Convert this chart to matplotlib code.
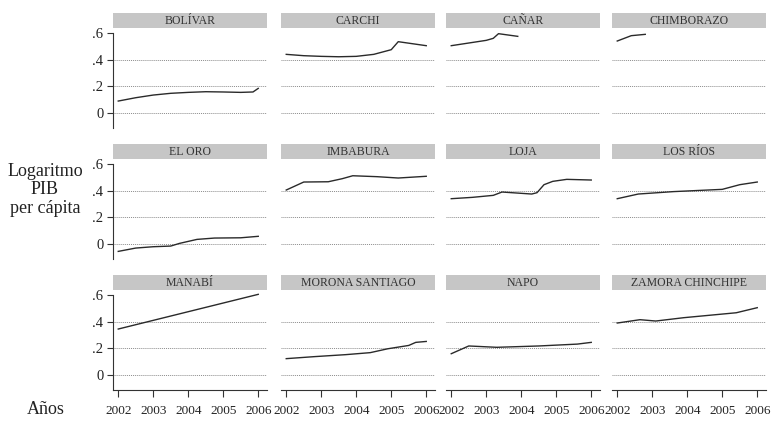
import matplotlib.pyplot as plt

plt.rcParams['font.family'] = ['Liberation Serif', 'DejaVu Serif']

# provincias (orden de los paneles, 4 columnas x 3 filas)
provincias = ["BOLÍVAR", "CARCHI", "CAÑAR", "CHIMBORAZO",
              "EL ORO", "IMBABURA", "LOJA", "LOS RÍOS",
              "MANABÍ", "MORONA SANTIAGO", "NAPO", "ZAMORA CHINCHIPE"]

# logaritmo del PIB per cápita
t_bolivar = [2002, 2002.5, 2003, 2003.5, 2004, 2004.5, 2005, 2005.5, 2005.85, 2006]
y_bolivar = [0.09, 0.115, 0.135, 0.148, 0.155, 0.16, 0.158, 0.155, 0.158, 0.185]

t_carchi = [2002, 2002.5, 2003, 2003.5, 2004, 2004.5, 2005, 2005.2, 2005.6, 2006]
y_carchi = [0.44, 0.43, 0.425, 0.422, 0.425, 0.44, 0.475, 0.535, 0.52, 0.505]

t_canar = [2002, 2002.5, 2003, 2003.2, 2003.35, 2003.9]
y_canar = [0.505, 0.525, 0.545, 0.56, 0.595, 0.575]

t_chimborazo = [2002, 2002.4, 2002.8]
y_chimborazo = [0.54, 0.58, 0.59]

t_el_oro = [2002, 2002.5, 2003, 2003.5, 2003.75, 2004.25, 2004.75, 2005.5, 2006]
y_el_oro = [-0.055, -0.03, -0.02, -0.015, 0.005, 0.035, 0.045, 0.047, 0.058]

t_imbabura = [2002, 2002.5, 2003.2, 2003.6, 2003.9, 2004.6, 2005.2, 2006]
y_imbabura = [0.405, 0.465, 0.467, 0.49, 0.512, 0.505, 0.495, 0.508]

t_loja = [2002, 2002.6, 2003.2, 2003.45, 2004.3, 2004.45, 2004.65, 2004.9, 2005.3, 2006]
y_loja = [0.34, 0.35, 0.365, 0.39, 0.375, 0.385, 0.445, 0.47, 0.485, 0.48]

t_los_rios = [2002, 2002.6, 2003.6, 2005, 2005.5, 2006]
y_los_rios = [0.34, 0.375, 0.393, 0.41, 0.445, 0.465]

t_manabi = [2002, 2003, 2004, 2005, 2006]
y_manabi = [0.345, 0.41, 0.475, 0.54, 0.605]

t_morona = [2002, 2002.8, 2003.7, 2004.4, 2004.9, 2005.5, 2005.7, 2006]
y_morona = [0.123, 0.138, 0.153, 0.168, 0.197, 0.222, 0.245, 0.252]

t_napo = [2002, 2002.5, 2003.3, 2004.5, 2005.6, 2006]
y_napo = [0.16, 0.218, 0.208, 0.218, 0.232, 0.245]

t_zamora = [2002, 2002.65, 2003.1, 2003.9, 2005.4, 2006]
y_zamora = [0.39, 0.415, 0.405, 0.43, 0.467, 0.505]

series = [(t_bolivar, y_bolivar), (t_carchi, y_carchi), (t_canar, y_canar),
          (t_chimborazo, y_chimborazo), (t_el_oro, y_el_oro),
          (t_imbabura, y_imbabura), (t_loja, y_loja), (t_los_rios, y_los_rios),
          (t_manabi, y_manabi), (t_morona, y_morona), (t_napo, y_napo),
          (t_zamora, y_zamora)]

anios = [2002, 2003, 2004, 2005, 2006]
y_ticks = [0, 0.2, 0.4, 0.6]
y_labels = ["0", ".2", ".4", ".6"]
grid_levels = [0, 0.2, 0.4]

W, H = 773, 421
fig = plt.figure(figsize=(W / 100, H / 100), dpi=100)

col_left = [113, 281, 446, 612]
row_top = [13, 144, 275]
ax_w, ax_h = 154, 115
y_min, y_max = -0.112, 0.75
strip_low = 0.637

for k, (nombre, (t, y)) in enumerate(zip(provincias, series)):
    r, c = divmod(k, 4)
    ax = fig.add_axes([col_left[c] / W, 1 - (row_top[r] + ax_h) / H, ax_w / W, ax_h / H])
    ax.set_xlim(2001.85, 2006.25)
    ax.set_ylim(y_min, y_max)

    for g in grid_levels:
        ax.axhline(g, color='#8c8c8c', lw=0.7, ls=(0, (1, 1)), zorder=1)

    ax.plot(t, y, color='#2a2a2a', lw=1.0, zorder=2)

    # franja del título
    ax.axhspan(strip_low, y_max, color='#c6c6c6', lw=0, zorder=3)
    ax.text(0.5, (strip_low + y_max) / 2, nombre, transform=ax.get_yaxis_transform(),
            ha='center', va='center', fontsize=8.5, color='#333333', zorder=4)

    for s in ['top', 'right']:
        ax.spines[s].set_visible(False)

    if c == 0:
        ax.spines['left'].set_bounds(y_min, 0.6)
        ax.spines['left'].set_color('#333333')
        ax.spines['left'].set_linewidth(0.8)
        ax.set_yticks(y_ticks)
        ax.set_yticklabels(y_labels)
        ax.tick_params(axis='y', length=4, width=0.8, pad=3, labelsize=10.5,
                       colors='#333333', labelcolor='#222222')
    else:
        ax.spines['left'].set_visible(False)
        ax.set_yticks([])

    if r == 2:
        ax.spines['bottom'].set_color('#333333')
        ax.spines['bottom'].set_linewidth(0.8)
        ax.set_xticks(anios)
        ax.set_xticklabels([str(a) for a in anios])
        ax.tick_params(axis='x', length=5, width=0.8, pad=6, labelsize=9.5,
                       colors='#333333', labelcolor='#222222')
    else:
        ax.spines['bottom'].set_visible(False)
        ax.set_xticks([])

fig.text(45 / W, 1 - 190 / H, "Logaritmo\nPIB\nper cápita", ha='center', va='center',
         fontsize=13, linespacing=1.1, color='#222222')
fig.text(46 / W, 1 - 410 / H, "Años", ha='center', va='center', fontsize=13, color='#222222')

fig.savefig("out.png", dpi=100)
